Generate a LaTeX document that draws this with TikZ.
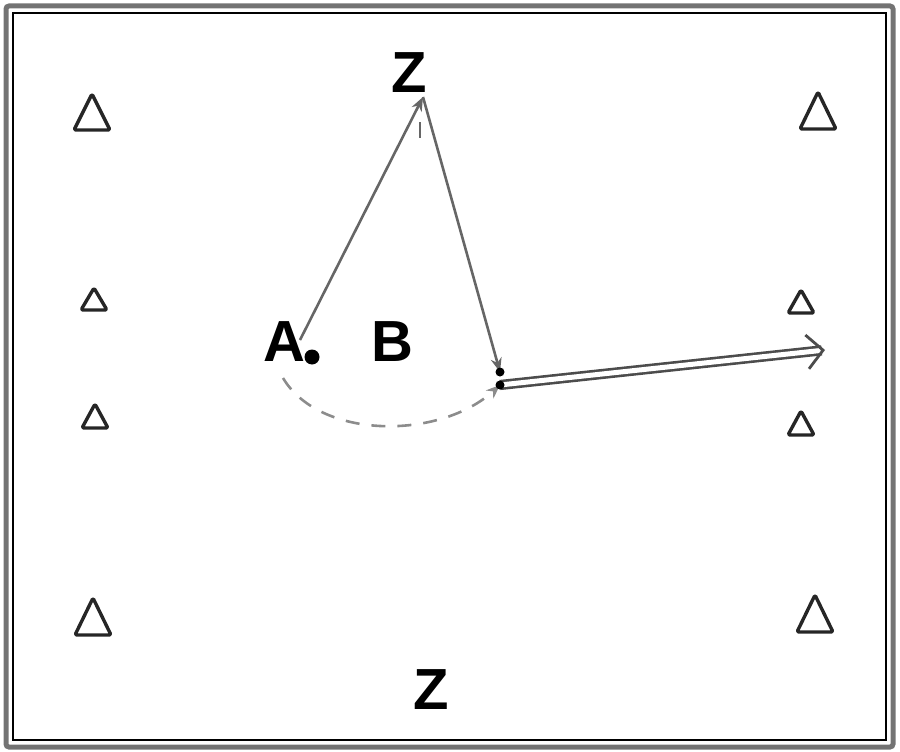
\documentclass[tikz,border=0pt]{standalone}
\usepackage{fontspec}
\setmainfont{Liberation Sans}
\usetikzlibrary{arrows.meta,shapes.geometric}
\begin{document}
\begin{tikzpicture}[x=1pt,y=-1pt,
  lbl/.style={font=\fontsize{58}{58}\selectfont\bfseries, inner sep=0pt},
  tri/.style={draw=black!85, line width=3.4pt, line join=round, rounded corners=1.5pt},
  conn/.style={draw=black!60, line width=2.6pt, -{Stealth[length=14pt,width=11pt]}},
]
\useasboundingbox (0,0) rectangle (900,752);
% frame
\draw[black!55, line width=5pt, rounded corners=3pt] (6,6) rectangle (893,747);
\draw[black, line width=1.5pt] (13,13) rectangle (886,740);
% triangles (apex, then base)
\draw[tri] (92,94) -- ++(18,36) -- ++(-36,0) -- cycle;
\draw[tri] (94,288) -- ++(13,22) -- ++(-26,0) -- cycle;
\draw[tri] (95,404) -- ++(13,24) -- ++(-26,0) -- cycle;
\draw[tri] (93,598) -- ++(18,37) -- ++(-36,0) -- cycle;
\draw[tri] (818,92) -- ++(18,37) -- ++(-36,0) -- cycle;
\draw[tri] (801,290) -- ++(13,23) -- ++(-26,0) -- cycle;
\draw[tri] (801,411) -- ++(13,24) -- ++(-26,0) -- cycle;
\draw[tri] (815,595) -- ++(18,37) -- ++(-36,0) -- cycle;
% labels
\node[lbl] (z1) at (409,73) {Z};
\node[lbl] (a) at (284,342) {A};
\node[circle, fill=black, inner sep=0pt, minimum size=15pt] (ball) at (312,357) {};
\node[lbl] (b) at (392,342) {B};
\node[lbl] (z2) at (431,690) {Z};
% connectors
\coordinate (s1) at (300,340);
\coordinate (p1) at (423,97);
\coordinate (p2) at (500,372);
\coordinate (d0) at (283,378);
\coordinate (d1) at (500,385);
\coordinate (e1) at (825,350);
\draw[conn] (s1) -- (p1);
\draw[black!60, line width=2.6pt] (420,122) -- (420,138);
\draw[conn] (p1) -- (p2);
\draw[conn, draw=black!45, dash pattern=on 14pt off 12pt] (d0) .. controls (320,440) and (440,440) .. (d1);
\draw[black!70, line width=2.6pt, double=white, double distance=5pt, -{Straight Barb[length=16pt,width=34pt,line width=2.8pt]}] (d1) -- (e1);
\fill[black] (p2) circle (4.5pt);
\fill[black] (d1) circle (4.5pt);
\end{tikzpicture}
\end{document}
